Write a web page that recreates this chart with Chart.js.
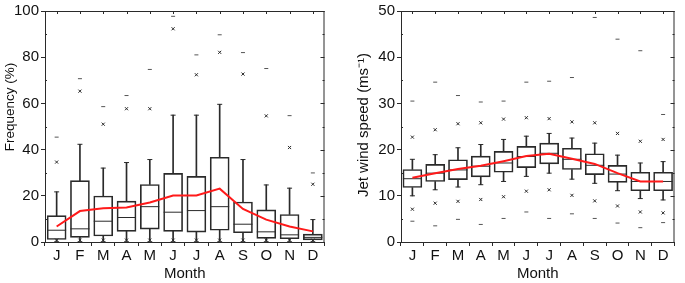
<!DOCTYPE html>
<html>
<head>
<meta charset="utf-8">
<script src="https://cdn.jsdelivr.net/npm/chart.js@4.4.1/dist/chart.umd.min.js"></script>
<style>
html,body{margin:0;padding:0;background:#fff;}
#wrap{position:relative;width:685px;height:283px;overflow:hidden;}
#c1{position:absolute;left:0;top:0;}
#c2{position:absolute;left:340px;top:0;}
</style>
</head>
<body>
<div id="wrap">
<canvas id="c1" width="335" height="283"></canvas>
<canvas id="c2" width="345" height="283"></canvas>
</div>
<script>
// ---------- data ----------
const months = ['J','F','M','A','M','J','J','A','S','O','N','D'];

// Left panel: Frequency (%)
const freqTitle    = 'Frequency (%)';
const freqMin      = [0,0,0,0,0,0,0,0,0,0,0,0];
const freqP1       = [0.8,0.8,0.8,0.8,0.8,0.8,0.8,0.8,0.8,0.8,0.8,0.8];
const freqWhiskLo  = [0,0,0,0,0,0,0,0,0,0,0,0];
const freqQ1       = [1.1,2.0,2.6,4.6,5.6,4.6,4.3,5.1,4.0,1.6,1.4,0.9];
const freqMedian   = [5.1,5.7,9.0,10.6,15.3,12.9,13.6,15.3,7.7,4.4,3.1,2.0];
const freqQ3       = [11.4,26.6,19.9,17.7,24.9,29.7,28.4,36.7,17.3,13.9,11.9,3.4];
const freqWhiskHi  = [21.7,42.3,32.0,34.4,35.7,54.9,54.9,59.6,35.7,24.7,23.3,9.7];
const freqP99      = [34.6,65.3,51.0,57.7,57.7,92.3,72.4,82.1,72.7,54.6,40.9,25.0];
const freqMax      = [45.4,70.7,58.6,63.4,74.7,97.7,81.0,89.7,82.0,75.1,54.7,29.9];
const freqMean     = [6.7,13.4,14.6,14.9,17.1,20.1,20.1,23.1,14.3,9.7,6.7,4.6];
const freqTicks    = [0,20,40,60,80,100];

// Right panel: Jet wind speed (m s-1)
const windTitle    = 'Jet wind speed (ms\u207B\u00B9)';
const windMin      = [4.5,3.5,4.9,3.8,5.1,6.5,5.1,6.1,5.1,4.1,3.1,4.2];
const windP1       = [7.1,8.4,8.8,9.2,9.8,11.0,11.3,10.1,8.9,7.8,6.5,6.3];
const windWhiskLo  = [10.0,11.3,11.9,12.4,13.1,14.2,14.9,13.6,12.7,11.1,9.4,9.1];
const windQ1       = [11.8,13.1,13.5,14.1,15.1,16.1,16.9,15.7,14.6,12.9,11.1,11.1];
const windMedian   = [13.7,14.9,15.6,16.4,17.1,18.5,19.2,17.9,16.6,14.7,13.1,13.1];
const windQ3       = [15.7,16.8,17.8,18.6,19.6,20.7,21.4,20.3,19.1,16.6,15.1,15.1];
const windWhiskHi  = [17.9,18.9,20.4,21.1,22.2,22.9,23.5,22.5,21.4,18.8,17.1,17.4];
const windP99      = [22.7,24.3,25.6,25.8,26.6,26.9,26.7,26.0,25.8,23.5,21.8,22.2];
const windMax      = [30.5,34.6,31.7,30.3,30.5,34.6,34.8,35.6,48.6,43.9,41.4,27.6];
const windMean     = [13.9,14.9,15.8,16.5,17.5,18.6,19.1,18.0,16.9,14.9,13.1,13.1];
const windTicks    = [0,10,20,30,40,50];

// ---------- rendering ----------
const FONT = "'Liberation Sans', Arial, sans-serif";
const INK = '#2a2a2a';

const frameTicks = {
  id: 'frameTicks',
  afterDatasetsDraw(chart, args, opts) {
    const {ctx, chartArea: a, scales: {x, y}} = chart;
    ctx.save();
    ctx.strokeStyle = INK;
    ctx.lineWidth = 1;
    ctx.beginPath();
    ctx.moveTo(a.left, a.top + 0.5); ctx.lineTo(a.right, a.top + 0.5);
    ctx.moveTo(a.right - 0.5, a.top); ctx.lineTo(a.right - 0.5, a.bottom);
    for (let i = 0; i < months.length; i++) {
      const px = Math.round(x.getPixelForValue(i)) + 0.5;
      ctx.moveTo(px, a.top); ctx.lineTo(px, a.top + 3);
    }
    const step = opts.step;
    for (let v = y.min; v <= y.max + 1e-9; v += step / 2) {
      const py = Math.round(y.getPixelForValue(v)) + 0.5;
      const major = Math.abs((v / step) - Math.round(v / step)) < 1e-6;
      const len = major ? 4 : 2;
      ctx.moveTo(a.right, py); ctx.lineTo(a.right - len, py);
      if (!major) { ctx.moveTo(a.left, py); ctx.lineTo(a.left + 2, py); }
    }
    ctx.stroke();
    ctx.restore();
  }
};

// rotated y-axis title placed at a given position
const yTitle = {
  id: 'yTitle',
  afterDraw(chart, args, o) {
    const ctx = chart.ctx;
    ctx.save();
    ctx.translate(o.x, o.y);
    ctx.rotate(-Math.PI / 2);
    ctx.textAlign = 'center';
    ctx.textBaseline = 'middle';
    ctx.fillStyle = '#111';
    ctx.font = o.size + 'px ' + FONT;
    ctx.fillText(o.text, 0, 0);
    ctx.restore();
  }
};

function makeChart(id, d, titleText, titleSize, titleX, titleY, yMax, step, yWidth, padRight) {
  const pairs = (a, b) => a.map((v, i) => [v, b[i]]);
  const pts = (arr, style, r, color) => ({
    type: 'line', data: arr, showLine: false, pointStyle: style,
    pointRadius: r, pointHoverRadius: r, pointBorderColor: color,
    pointBackgroundColor: color, pointBorderWidth: 1, borderColor: color, order: 2
  });
  new Chart(document.getElementById(id), {
    type: 'bar',
    data: {
      labels: months,
      datasets: [
        {type: 'bar', data: pairs(d.wlo, d.q1), barThickness: 1, backgroundColor: INK, borderWidth: 0, grouped: false, order: 5},
        {type: 'bar', data: pairs(d.q3, d.whi), barThickness: 1, backgroundColor: INK, borderWidth: 0, grouped: false, order: 5},
        {type: 'bar', data: pairs(d.q1, d.q3), barThickness: 19, backgroundColor: 'rgba(255,255,255,0)', borderColor: INK, borderWidth: 1, borderSkipped: false, grouped: false, order: 4},
        pts(d.med, 'line', 9.5, INK),
        pts(d.whi, 'line', 2.5, INK),
        pts(d.wlo, 'line', 2.5, INK),
        pts(d.p99, 'crossRot', 2.2, INK),
        pts(d.p1, 'crossRot', 2.2, INK),
        pts(d.max, 'line', 2, '#555'),
        pts(d.min, 'line', 2, '#555'),
        {type: 'line', data: d.mean, borderColor: '#ff1a1a', borderWidth: 2, pointRadius: 0, tension: 0, order: 0}
      ]
    },
    options: {
      responsive: false,
      animation: false,
      events: [],
      layout: {padding: {top: 9, right: padRight, left: 0, bottom: 0}},
      plugins: {
        legend: {display: false}, tooltip: {enabled: false},
        frameTicks: {step: step},
        yTitle: {text: titleText, size: titleSize, x: titleX, y: titleY}
      },
      scales: {
        x: {
          offset: true,
          grid: {display: true, drawOnChartArea: false, drawTicks: true, tickLength: 4, color: INK},
          border: {display: true, color: INK, width: 1},
          ticks: {color: '#111', font: {family: FONT, size: 15}, padding: 1, maxRotation: 0, autoSkip: false},
          title: {display: true, text: 'Month', color: '#111', font: {family: FONT, size: 15}, padding: {top: 0, bottom: 0}},
          afterFit: s => { s.height = 41; }
        },
        y: {
          min: 0, max: yMax,
          grid: {display: true, drawOnChartArea: false, drawTicks: true, tickLength: 4, color: INK},
          border: {display: true, color: INK, width: 1},
          ticks: {stepSize: step, color: '#111', font: {family: FONT, size: 15}, padding: 2},
          afterFit: s => { s.width = yWidth; }
        }
      }
    },
    plugins: [frameTicks, yTitle]
  });
}

makeChart('c1', {min: freqMin, p1: freqP1, wlo: freqWhiskLo, q1: freqQ1, med: freqMedian, q3: freqQ3, whi: freqWhiskHi, p99: freqP99, max: freqMax, mean: freqMean},
  freqTitle, 13.5, 10, 107, freqTicks[freqTicks.length - 1], freqTicks[1] - freqTicks[0], 45, 7);
makeChart('c2', {min: windMin, p1: windP1, wlo: windWhiskLo, q1: windQ1, med: windMedian, q3: windQ3, whi: windWhiskHi, p99: windP99, max: windMax, mean: windMean},
  windTitle, 15, 24, 125, windTicks[windTicks.length - 1], windTicks[1] - windTicks[0], 61, 1);
</script>
</body>
</html>
